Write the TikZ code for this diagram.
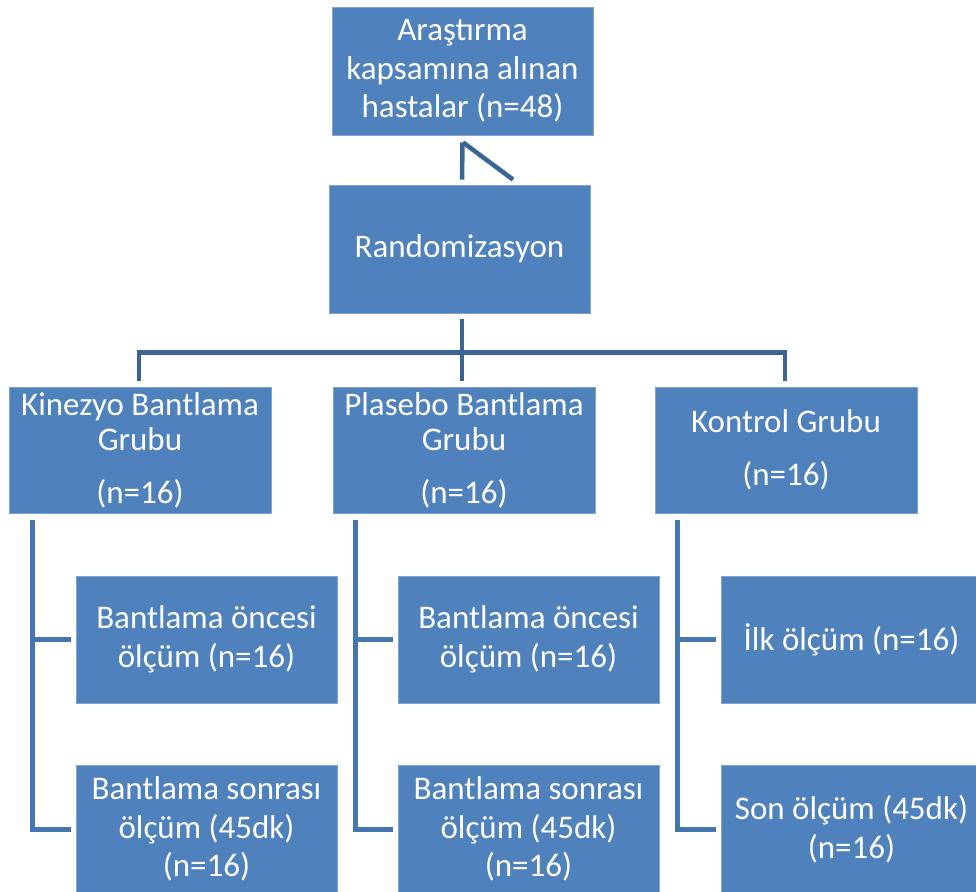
\documentclass[tikz,border=0pt]{standalone}
\usepackage{fontspec}
\setmainfont{Carlito}
\usetikzlibrary{positioning}

\definecolor{boxblue}{HTML}{4F81BD}
\definecolor{boxedge}{HTML}{7FA3D3}
\definecolor{darkline}{HTML}{3A6496}
\definecolor{midline}{HTML}{4676B0}

\tikzset{
  box/.style={draw=boxedge, line width=0.8pt, fill=boxblue, text=white, align=center,
    minimum width=261pt, minimum height=127pt, inner sep=0pt,
    font=\fontsize{33}{38.5}\selectfont},
  groupbox/.style={box, minimum width=262pt, minimum height=126pt,
    font=\fontsize{33}{35}\selectfont},
  conn/.style={draw=darkline, line width=4.5pt},
  branch/.style={draw=midline, line width=5pt}
}

\begin{document}
\begin{tikzpicture}[x=1pt, y=-1pt]
	\useasboundingbox (0, 0) rectangle (976, 891);

	\node[box, minimum height=128pt] (top) at (462.5, 71) {Araştırma\\kapsamına alınan\\hastalar (n=48)};
	\node[box, minimum height=128pt] (rand) at (459.5, 249) {Randomizasyon};

	\node[groupbox] (kin) at (140, 450) {Kinezyo Bantlama\\Grubu\\[18pt](n=16)};
	\node[groupbox] (pla) at (464, 450) {Plasebo Bantlama\\Grubu\\[18pt](n=16)};
	\node[groupbox] (kon) at (786, 450) {Kontrol Grubu\\[18pt](n=16)};

	\node[box] (kinpre) at (206.5, 639.5) {Bantlama öncesi\\ölçüm (n=16)};
	\node[box, minimum height=128pt] (kinpost) at (206.5, 829) {Bantlama sonrası\\ölçüm (45dk)\\(n=16)};
	\node[box] (plapre) at (528.5, 639.5) {Bantlama öncesi\\ölçüm (n=16)};
	\node[box, minimum height=128pt] (plapost) at (528.5, 829) {Bantlama sonrası\\ölçüm (45dk)\\(n=16)};
	\node[box] (konpre) at (851.5, 639.5) {İlk ölçüm (n=16)};
	\node[box, minimum height=128pt] (konpost) at (851.5, 829) {Son ölçüm (45dk)\\(n=16)};

	\draw[conn] ([yshift=-7pt]top.south) -- ([xshift=2.5pt, yshift=5pt]rand.north);
	\draw[conn] ([xshift=0.5pt, yshift=-7pt]top.south) -- ([xshift=53.5pt, yshift=5pt]rand.north);

	\draw[conn] ([xshift=2.5pt, yshift=-6pt]rand.south) -- ([xshift=-2pt, yshift=6pt]pla.north);
	\draw[conn] ([xshift=-1pt, yshift=6pt]kin.north) -- ++(0, -28) -| ([xshift=-1pt, yshift=6pt]kon.north);

	\coordinate (kinbus) at ([xshift=24pt, yshift=-7pt]kin.south west);
	\coordinate (plabus) at ([xshift=23pt, yshift=-7pt]pla.south west);
	\coordinate (konbus) at ([xshift=23pt, yshift=-7pt]kon.south west);

	\draw[branch] (kinbus) |- ([xshift=-5pt]kinpost.west);
	\draw[branch] (kinbus |- kinpre.west) -- ([xshift=-5pt]kinpre.west);
	\draw[branch] (plabus) |- ([xshift=-5pt]plapost.west);
	\draw[branch] (plabus |- plapre.west) -- ([xshift=-5pt]plapre.west);
	\draw[branch] (konbus) |- ([xshift=-5pt]konpost.west);
	\draw[branch] (konbus |- konpre.west) -- ([xshift=-5pt]konpre.west);

\end{tikzpicture}
\end{document}
